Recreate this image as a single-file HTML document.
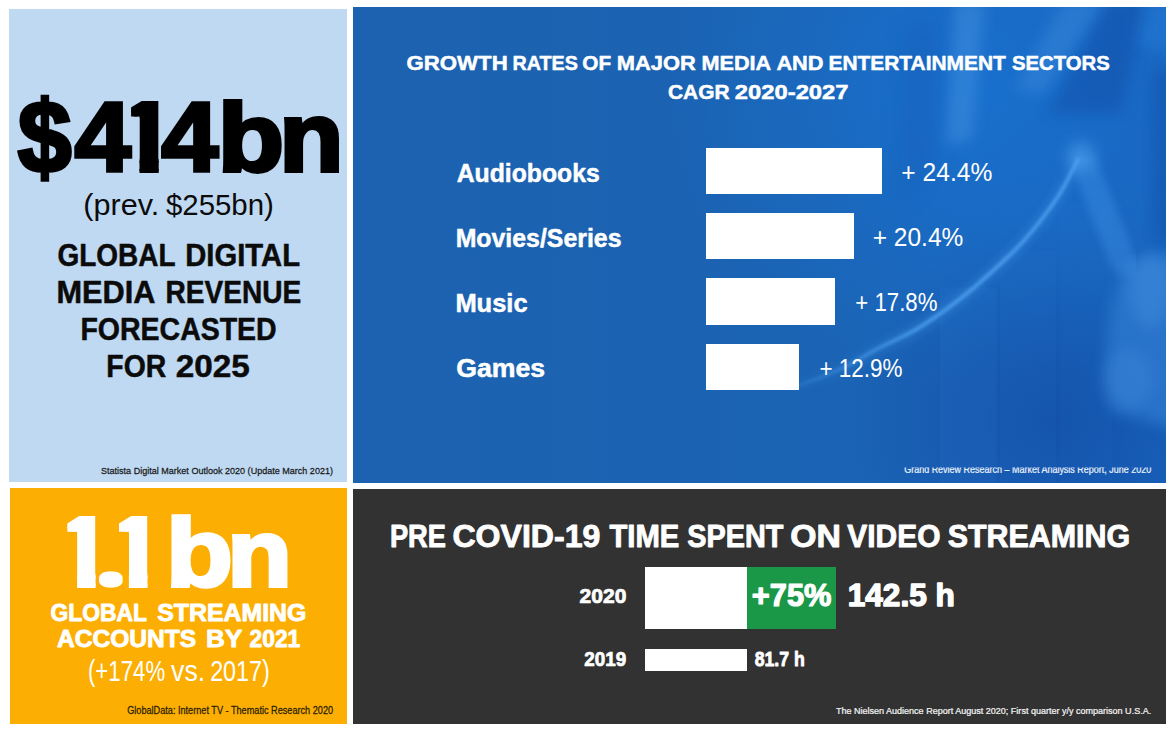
<!DOCTYPE html>
<html lang="en"><head><meta charset="utf-8"><title>Digital media market infographic</title>
<style>
html,body{margin:0;padding:0;background:#fff;}
body{width:1173px;height:730px;position:relative;overflow:hidden;font-family:"Liberation Sans",sans-serif;}
.panel{position:absolute;}
.bar{position:absolute;}
svg{position:absolute;left:0;top:0;}
svg text{font-family:"Liberation Sans",sans-serif;white-space:pre;}
</style></head><body>
<div class="panel" id="p-lb" style="left:9.4px;top:9px;width:337.6px;height:473.4px;background:#bfd9f2"></div>
<div class="panel" id="p-bl" style="left:353px;top:6.5px;width:813.4px;height:475.9px;background:#1c62b1"></div>
<div class="panel" id="p-og" style="left:9.5px;top:488.4px;width:337.5px;height:235.2px;background:#fdae02"></div>
<div class="panel" id="p-dk" style="left:353px;top:489px;width:813.4px;height:234.6px;background:#323232"></div>
<svg id="bgblue" style="left:353px;top:6.5px" width="813.4" height="476" viewBox="353 6.5 813.4 476">
<defs>
<linearGradient id="bgh" x1="0" y1="0" x2="1" y2="0"><stop offset="0" stop-color="#1c62b0"/><stop offset="0.55" stop-color="#1b63b3"/><stop offset="1" stop-color="#1964bc"/></linearGradient>
<linearGradient id="bgd" x1="0" y1="0" x2="0" y2="1"><stop offset="0" stop-color="#0c3a98" stop-opacity="0"/><stop offset="0.7" stop-color="#0c3a98" stop-opacity="0"/><stop offset="1" stop-color="#0c3a98" stop-opacity="0.35"/></linearGradient>
<radialGradient id="glowtr" cx="970" cy="90" r="300" gradientUnits="userSpaceOnUse"><stop offset="0" stop-color="#1878dc" stop-opacity="0.60"/><stop offset="0.5" stop-color="#1878dc" stop-opacity="0.30"/><stop offset="1" stop-color="#1878dc" stop-opacity="0"/></radialGradient>
<radialGradient id="darkbr" cx="1050" cy="420" r="200" gradientUnits="userSpaceOnUse"><stop offset="0" stop-color="#0d3f9c" stop-opacity="0.50"/><stop offset="1" stop-color="#0d3f9c" stop-opacity="0"/></radialGradient>
<linearGradient id="cfade" x1="790" y1="0" x2="930" y2="0" gradientUnits="userSpaceOnUse"><stop offset="0" stop-color="#4a9cec" stop-opacity="0.15"/><stop offset="1" stop-color="#4a9cec" stop-opacity="1"/></linearGradient>
<filter id="b2" x="-20%" y="-20%" width="140%" height="140%"><feGaussianBlur stdDeviation="1.4"/></filter>
<filter id="b4" x="-30%" y="-30%" width="160%" height="160%"><feGaussianBlur stdDeviation="4"/></filter>
<filter id="b7" x="-40%" y="-40%" width="180%" height="180%"><feGaussianBlur stdDeviation="7"/></filter>
<filter id="b12" x="-50%" y="-50%" width="200%" height="200%"><feGaussianBlur stdDeviation="12"/></filter>
<clipPath id="bgclip"><rect x="353" y="6.5" width="813.4" height="476"/></clipPath>
</defs>
<g clip-path="url(#bgclip)">
<rect x="353" y="6.5" width="813.4" height="476" fill="url(#bgh)"/>
<rect x="353" y="6.5" width="813.4" height="476" fill="url(#glowtr)"/>
<rect x="353" y="6.5" width="813.4" height="476" fill="url(#darkbr)"/>
<!-- faint chart columns -->
<rect x="940" y="287" width="57" height="200" fill="#3b8be0" opacity="0.10"/>
<rect x="1000" y="250" width="56" height="240" fill="#3b8be0" opacity="0.07"/>
<rect x="1060" y="205" width="52" height="280" fill="#3b8be0" opacity="0.06"/>
<!-- torso: shirt band, collar band, dark lapels -->
<polygon points="955,0 985,0 972,140 945,145" fill="#4f9ae6" opacity="0.40" filter="url(#b7)"/>
<polygon points="1064,0 1106,0 1044,94 1014,90" fill="#4f9ae6" opacity="0.30" filter="url(#b7)"/>
<polygon points="1108,0 1146,0 1122,112 1048,114" fill="#0d429c" opacity="0.36" filter="url(#b7)"/>
<polygon points="1146,0 1180,0 1180,52 1138,46" fill="#2a84e0" opacity="0.35" filter="url(#b7)"/>
<polygon points="1152,70 1175,70 1175,250 1154,235" fill="#0d429c" opacity="0.30" filter="url(#b7)"/>
<polygon points="905,30 940,20 935,150 900,210" fill="#0d429c" opacity="0.18" filter="url(#b12)"/>
<!-- pointing finger and hand -->
<path d="M1086,168 L1124,262" stroke="#3d8ee2" stroke-width="26" stroke-linecap="round" opacity="0.45" filter="url(#b4)" fill="none"/>
<path d="M1128,262 C1108,300 1100,350 1112,410 L1180,430 L1180,250 Z" fill="#3a89de" opacity="0.50" filter="url(#b7)"/>
<ellipse cx="1150" cy="290" rx="20" ry="38" fill="#4b97e6" opacity="0.32" filter="url(#b7)"/>
<ellipse cx="1128" cy="378" rx="26" ry="30" fill="#4590e2" opacity="0.30" filter="url(#b7)"/>
<!-- rising curve -->
<path d="M796,386 C800.0,384.5 811.3,380.5 820,377 C828.7,373.5 838.3,369.8 848,365 C857.7,360.2 866.7,354.0 878,348 C889.3,342.0 904.0,336.0 916,329 C928.0,322.0 939.2,314.0 950,306 C960.8,298.0 968.7,292.0 981,281 C993.3,270.0 1011.2,254.2 1024,240 C1036.8,225.8 1049.0,209.5 1058,196 C1067.0,182.5 1074.7,165.2 1078,159" stroke="url(#cfade)" stroke-width="12" opacity="0.26" filter="url(#b4)" fill="none" stroke-linecap="round"/>
<path d="M796,386 C800.0,384.5 811.3,380.5 820,377 C828.7,373.5 838.3,369.8 848,365 C857.7,360.2 866.7,354.0 878,348 C889.3,342.0 904.0,336.0 916,329 C928.0,322.0 939.2,314.0 950,306 C960.8,298.0 968.7,292.0 981,281 C993.3,270.0 1011.2,254.2 1024,240 C1036.8,225.8 1049.0,209.5 1058,196 C1067.0,182.5 1074.7,165.2 1078,159" stroke="url(#cfade)" stroke-width="4" opacity="0.9" filter="url(#b2)" fill="none" stroke-linecap="round"/>
<circle cx="1081" cy="156" r="15" fill="#4fa2f0" opacity="0.55" filter="url(#b7)"/>
</g>
</svg>

<div class="bar" style="left:706px;top:147.6px;width:176.30px;height:46.50px;background:#fff"></div>
<div class="bar" style="left:706px;top:212.9px;width:147.50px;height:46.60px;background:#fff"></div>
<div class="bar" style="left:706px;top:278.1px;width:128.70px;height:46.60px;background:#fff"></div>
<div class="bar" style="left:706px;top:344.3px;width:93.20px;height:45.70px;background:#fff"></div>
<div class="bar" style="left:645px;top:566.8px;width:102.00px;height:62.25px;background:#fff"></div>
<div class="bar" style="left:747px;top:566.8px;width:88.70px;height:62.25px;background:#1a9848"></div>
<div class="bar" style="left:645px;top:648.7px;width:102.00px;height:22.50px;background:#fff"></div>
<svg id="txt" width="1173" height="730" viewBox="0 0 1173 730">
<defs><clipPath id="clipfoot"><rect x="880" y="467.6" width="290" height="20"/></clipPath><clipPath id="c1_1"><polygon points="131.1,99.2 158.7,99.2 158.7,174.1 139.5,174.1 139.5,116.5 131.1,116.5"/></clipPath><clipPath id="c1_2"><polygon points="67.4,514.1 95.6,514.1 95.6,589.3 77.1,589.3 77.1,531.7 67.4,531.7"/></clipPath><clipPath id="c1_3"><polygon points="119.0,514.1 147.5,514.1 147.5,589.3 128.9,589.3 128.9,531.7 119.0,531.7"/></clipPath></defs>
<g id="g-lb_big" role="img" aria-label="$414bn"><text transform="translate(17.80 171.64) scale(0.9676 1.0146)" font-size="100" font-weight="bold" fill="#000" stroke="#000" stroke-width="3.53" stroke-linejoin="miter">$</text><text transform="translate(74.52 171.25) scale(1.0168 0.9826)" font-size="100" font-weight="bold" fill="#000" stroke="#000" stroke-width="3.50" stroke-linejoin="miter">4</text><g clip-path="url(#c1_1)"><text transform="translate(116.31 171.10) scale(1.0836 0.9841)" font-size="100" font-weight="bold" fill="#000" stroke="#000" stroke-width="3.87">1</text></g><text transform="translate(161.21 171.25) scale(1.0262 0.9826)" font-size="100" font-weight="bold" fill="#000" stroke="#000" stroke-width="3.48" stroke-linejoin="miter">4</text><text transform="translate(217.85 170.84) scale(1.0851 0.9578)" font-size="100" font-weight="bold" fill="#000" stroke="#000" stroke-width="3.92" stroke-linejoin="miter">b</text><text transform="translate(279.26 171.00) scale(1.0515 0.9778)" font-size="100" font-weight="bold" fill="#000" stroke="#000" stroke-width="3.94" stroke-linejoin="miter">n</text></g>
<g id="g-lb">
<text y="215.10" font-size="28.86" font-weight="normal" fill="#0b0b0b"><tspan x="83.36" textLength="75.95" lengthAdjust="spacingAndGlyphs">(prev.</tspan> <tspan x="166.01" textLength="107.85" lengthAdjust="spacingAndGlyphs">$255bn)</tspan></text>
<text y="265.85" font-size="30.43" font-weight="bold" fill="#0b0b0b" stroke="#0b0b0b" stroke-width="0.5" stroke-linejoin="round"><tspan x="57.54" textLength="117.50" lengthAdjust="spacingAndGlyphs">GLOBAL</tspan> <tspan x="185.25" textLength="114.79" lengthAdjust="spacingAndGlyphs">DIGITAL</tspan></text>
<text y="302.85" font-size="30.58" font-weight="bold" fill="#0b0b0b" stroke="#0b0b0b" stroke-width="0.5" stroke-linejoin="round"><tspan x="56.48" textLength="97.90" lengthAdjust="spacingAndGlyphs">MEDIA</tspan> <tspan x="165.42" textLength="135.84" lengthAdjust="spacingAndGlyphs">REVENUE</tspan></text>
<text transform="translate(80.40 339.65) scale(0.9323 1)" font-size="30.58" font-weight="bold" fill="#0b0b0b" stroke="#0b0b0b" stroke-width="0.5" stroke-linejoin="round">FORECASTED</text>
<text y="376.55" font-size="30.43" font-weight="bold" fill="#0b0b0b" stroke="#0b0b0b" stroke-width="0.5" stroke-linejoin="round"><tspan x="106.31" textLength="59.88" lengthAdjust="spacingAndGlyphs">FOR</tspan> <tspan x="175.78" textLength="74.05" lengthAdjust="spacingAndGlyphs">2025</tspan></text>
<text transform="translate(101.02 474.38) scale(0.9110 1)" font-size="9.93" font-weight="normal" fill="#1a1a1a" stroke="#1a1a1a" stroke-width="0.25" stroke-linejoin="round">Statista Digital Market Outlook 2020 (Update March 2021)</text>
</g>
<g id="g-bl">
<text y="70.35" font-size="20.72" font-weight="bold" fill="#fff" stroke="#fff" stroke-width="0.5" stroke-linejoin="round"><tspan x="406.46" textLength="101.24" lengthAdjust="spacingAndGlyphs">GROWTH</tspan> <tspan x="512.47" textLength="65.47" lengthAdjust="spacingAndGlyphs">RATES</tspan> <tspan x="582.32" textLength="28.83" lengthAdjust="spacingAndGlyphs">OF</tspan> <tspan x="616.83" textLength="78.90" lengthAdjust="spacingAndGlyphs">MAJOR</tspan> <tspan x="701.56" textLength="68.87" lengthAdjust="spacingAndGlyphs">MEDIA</tspan> <tspan x="776.41" textLength="47.15" lengthAdjust="spacingAndGlyphs">AND</tspan> <tspan x="828.49" textLength="177.39" lengthAdjust="spacingAndGlyphs">ENTERTAINMENT</tspan> <tspan x="1011.94" textLength="97.84" lengthAdjust="spacingAndGlyphs">SECTORS</tspan></text>
<text y="99.45" font-size="20.87" font-weight="bold" fill="#fff" stroke="#fff" stroke-width="0.5" stroke-linejoin="round"><tspan x="668.01" textLength="61.55" lengthAdjust="spacingAndGlyphs">CAGR</tspan> <tspan x="734.82" textLength="113.74" lengthAdjust="spacingAndGlyphs">2020-2027</tspan></text>
<text transform="translate(456.63 181.65) scale(0.9660 1)" font-size="25.65" font-weight="bold" fill="#fff" stroke="#fff" stroke-width="0.5" stroke-linejoin="round">Audiobooks</text>
<text transform="translate(455.63 246.85) scale(0.9642 1)" font-size="25.80" font-weight="bold" fill="#fff" stroke="#fff" stroke-width="0.5" stroke-linejoin="round">Movies/Series</text>
<text transform="translate(455.39 311.75) scale(0.9945 1)" font-size="25.65" font-weight="bold" fill="#fff" stroke="#fff" stroke-width="0.5" stroke-linejoin="round">Music</text>
<text transform="translate(456.18 376.95) scale(1.0407 1)" font-size="25.65" font-weight="bold" fill="#fff" stroke="#fff" stroke-width="0.5" stroke-linejoin="round">Games</text>
<text transform="translate(901.37 181.20) scale(0.9420 1)" font-size="26.14" font-weight="normal" fill="#fff">+ 24.4%</text>
<text transform="translate(872.78 246.00) scale(0.9367 1)" font-size="26.14" font-weight="normal" fill="#fff">+ 20.4%</text>
<text transform="translate(855.29 311.20) scale(0.8452 1)" font-size="26.29" font-weight="normal" fill="#fff">+ 17.8%</text>
<text transform="translate(819.38 376.80) scale(0.8547 1)" font-size="26.29" font-weight="normal" fill="#fff">+ 12.9%</text>
</g>
<g id="g-blclip" clip-path="url(#clipfoot)">
<text transform="translate(904.18 472.98) scale(0.8556 1)" font-size="10.51" font-weight="normal" fill="#e8f0fa" stroke="#e8f0fa" stroke-width="0.25" stroke-linejoin="round">Grand Review Research – Market Analysis Report, June 2020</text>
</g>
<g id="g-og_big" role="img" aria-label="1.1 bn"><g clip-path="url(#c1_2)"><text transform="translate(55.09 586.30) scale(1.0327 0.9884)" font-size="100" font-weight="bold" fill="#fff" stroke="#fff" stroke-width="3.96">1</text></g><text transform="translate(106.65 581.30) scale(0.3071 0.2067)" font-size="100" font-weight="bold" fill="#fff" stroke="#fff" stroke-width="62.28" stroke-linejoin="round">.</text><g clip-path="url(#c1_3)"><text transform="translate(106.72 586.30) scale(1.0400 0.9884)" font-size="100" font-weight="bold" fill="#fff" stroke="#fff" stroke-width="3.94">1</text></g> <text transform="translate(166.00 586.34) scale(1.0931 0.9551)" font-size="100" font-weight="bold" fill="#fff" stroke="#fff" stroke-width="3.91" stroke-linejoin="miter">b</text><text transform="translate(227.32 586.30) scale(1.0577 0.9500)" font-size="100" font-weight="bold" fill="#fff" stroke="#fff" stroke-width="3.98" stroke-linejoin="miter">n</text></g>
<g id="g-og">
<text y="621.15" font-size="24.20" font-weight="bold" fill="#fff" stroke="#fff" stroke-width="0.9" stroke-linejoin="round"><tspan x="50.54" textLength="96.03" lengthAdjust="spacingAndGlyphs">GLOBAL</tspan> <tspan x="157.20" textLength="149.14" lengthAdjust="spacingAndGlyphs">STREAMING</tspan></text>
<text y="646.95" font-size="24.20" font-weight="bold" fill="#fff" stroke="#fff" stroke-width="0.9" stroke-linejoin="round"><tspan x="57.04" textLength="139.21" lengthAdjust="spacingAndGlyphs">ACCOUNTS</tspan> <tspan x="206.08" textLength="35.77" lengthAdjust="spacingAndGlyphs">BY</tspan> <tspan x="249.55" textLength="50.77" lengthAdjust="spacingAndGlyphs">2021</tspan></text>
<text y="680.90" font-size="28.86" font-weight="normal" fill="#fff"><tspan x="87.97" textLength="77.20" lengthAdjust="spacingAndGlyphs">(+174%</tspan> <tspan x="171.07" textLength="34.22" lengthAdjust="spacingAndGlyphs">vs.</tspan> <tspan x="210.13" textLength="59.73" lengthAdjust="spacingAndGlyphs">2017)</tspan></text>
<text transform="translate(127.17 713.67) scale(0.8952 1)" font-size="10.22" font-weight="normal" fill="#2a2200" stroke="#2a2200" stroke-width="0.25" stroke-linejoin="round">GlobalData: Internet TV - Thematic Research 2020</text>
</g>
<g id="g-dk">
<text y="547.15" font-size="31.74" font-weight="bold" fill="#fff" stroke="#fff" stroke-width="0.9" stroke-linejoin="round"><tspan x="389.88" textLength="56.10" lengthAdjust="spacingAndGlyphs">PRE</tspan> <tspan x="452.47" textLength="147.88" lengthAdjust="spacingAndGlyphs">COVID-19</tspan> <tspan x="609.46" textLength="69.92" lengthAdjust="spacingAndGlyphs">TIME</tspan> <tspan x="687.18" textLength="96.23" lengthAdjust="spacingAndGlyphs">SPENT</tspan> <tspan x="790.20" textLength="50.72" lengthAdjust="spacingAndGlyphs">ON</tspan> <tspan x="847.35" textLength="93.15" lengthAdjust="spacingAndGlyphs">VIDEO</tspan> <tspan x="947.64" textLength="182.54" lengthAdjust="spacingAndGlyphs">STREAMING</tspan></text>
<text transform="translate(579.51 602.65) scale(1.0766 1)" font-size="19.57" font-weight="bold" fill="#fff" stroke="#fff" stroke-width="0.7" stroke-linejoin="round">2020</text>
<text transform="translate(584.19 665.70) scale(0.9685 1)" font-size="19.50" font-weight="bold" fill="#fff" stroke="#fff" stroke-width="0.7" stroke-linejoin="round">2019</text>
<text transform="translate(751.87 606.20) scale(1.0026 1)" font-size="30.71" font-weight="bold" fill="#fff" stroke="#fff" stroke-width="1.2" stroke-linejoin="round">+75%</text>
<text transform="translate(847.75 606.10) scale(1.0378 1)" font-size="30.43" font-weight="bold" fill="#fff" stroke="#fff" stroke-width="1.4" stroke-linejoin="round">142.5 h</text>
<text transform="translate(754.67 665.80) scale(0.8916 1)" font-size="19.86" font-weight="bold" fill="#fff" stroke="#fff" stroke-width="0.8" stroke-linejoin="round">81.7 h</text>
<text transform="translate(835.90 713.67) scale(0.9516 1)" font-size="9.49" font-weight="normal" fill="#f2f2f2" stroke="#f2f2f2" stroke-width="0.25" stroke-linejoin="round">The Nielsen Audience Report August 2020; First quarter y/y comparison U.S.A.</text>
</g>
</svg>
</body></html>
